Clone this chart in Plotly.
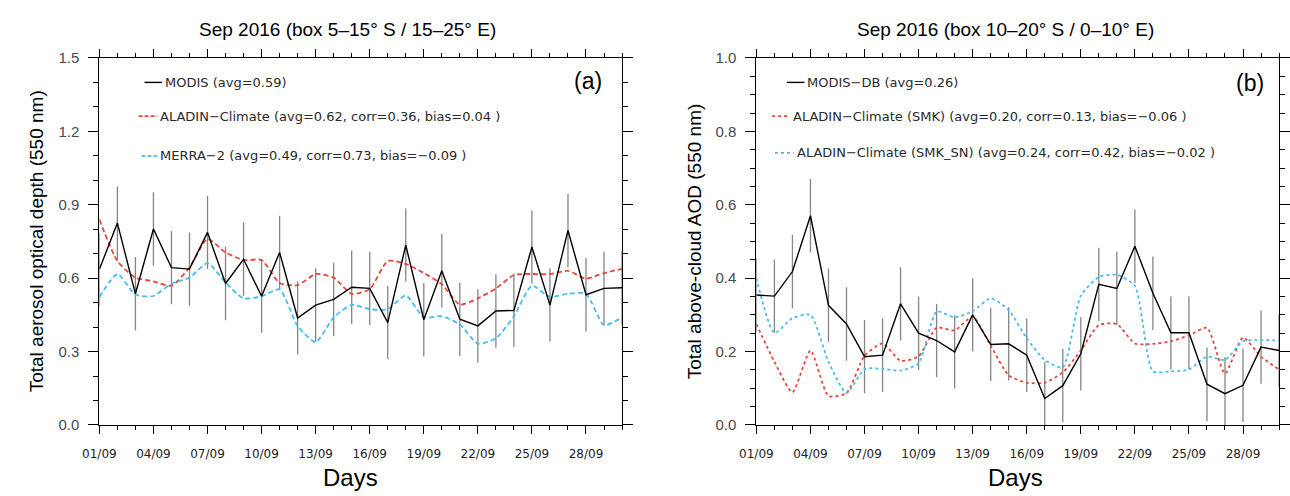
import plotly.graph_objects as go

# ---------------------------------------------------------------- data
days = list(range(1, 31))
day_ticks = [1, 4, 7, 10, 13, 16, 19, 22, 25, 28]
day_labels = ["01/09", "04/09", "07/09", "10/09", "13/09",
              "16/09", "19/09", "22/09", "25/09", "28/09"]

# Panel (a): box 5-15 S / 15-25 E, total AOD at 550 nm
modis_a = [0.636, 0.825, 0.536, 0.801, 0.643, 0.637, 0.787, 0.578, 0.677, 0.526,
           0.705, 0.437, 0.490, 0.513, 0.563, 0.558, 0.418, 0.735, 0.430, 0.630,
           0.432, 0.405, 0.466, 0.468, 0.727, 0.490, 0.795, 0.532, 0.558, 0.561]
modis_a_sd = [0.15, 0.15, 0.15, 0.15, 0.15, 0.15, 0.15, 0.15, 0.15, 0.15,
              0.15, 0.15, 0.15, 0.15, 0.15, 0.15, 0.15, 0.15, 0.15, 0.15,
              0.15, 0.15, 0.15, 0.15, 0.15, 0.15, 0.15, 0.15, 0.15, 0.15]
aladin_a = [0.840, 0.670, 0.602, 0.587, 0.569, 0.644, 0.760, 0.705, 0.674, 0.674,
            0.580, 0.571, 0.617, 0.602, 0.536, 0.555, 0.670, 0.658, 0.621, 0.575,
            0.492, 0.517, 0.558, 0.613, 0.617, 0.617, 0.630, 0.598, 0.621, 0.638]
merra_a = [0.523, 0.617, 0.533, 0.527, 0.578, 0.602, 0.661, 0.582, 0.517, 0.526,
           0.554, 0.405, 0.338, 0.440, 0.491, 0.473, 0.473, 0.529, 0.440, 0.444,
           0.411, 0.332, 0.354, 0.444, 0.569, 0.523, 0.536, 0.536, 0.408, 0.440]

# Panel (b): box 10-20 S / 0-10 E, above-cloud AOD at 550 nm
modis_b = [0.354, 0.351, 0.418, 0.570, 0.326, 0.275, 0.186, 0.190, 0.330, 0.250,
           0.230, 0.199, 0.300, 0.219, 0.221, 0.190, 0.072, 0.107, 0.194, 0.383,
           0.372, 0.487, 0.359, 0.251, 0.251, 0.111, 0.085, 0.108, 0.212, 0.203]
modis_b_sd = [0.10, 0.10, 0.10, 0.10, 0.10, 0.10, 0.10, 0.10, 0.10, 0.10,
              0.10, 0.10, 0.10, 0.10, 0.10, 0.10, 0.10, 0.10, 0.10, 0.10,
              0.10, 0.10, 0.10, 0.10, 0.10, 0.10, 0.10, 0.10, 0.10, 0.10]
smk_b = [0.275, 0.172, 0.089, 0.203, 0.079, 0.087, 0.188, 0.222, 0.175, 0.187,
         0.265, 0.258, 0.295, 0.216, 0.135, 0.115, 0.115, 0.143, 0.203, 0.272,
         0.275, 0.222, 0.221, 0.228, 0.244, 0.265, 0.140, 0.238, 0.186, 0.151]
smk_sn_b = [0.400, 0.251, 0.291, 0.300, 0.172, 0.087, 0.152, 0.153, 0.148, 0.168,
            0.309, 0.293, 0.310, 0.345, 0.313, 0.236, 0.177, 0.157, 0.352, 0.403,
            0.409, 0.379, 0.146, 0.146, 0.151, 0.186, 0.177, 0.228, 0.231, 0.230]

legend_a = ["MODIS (avg=0.59)",
            "ALADIN\u2212Climate (avg=0.62, corr=0.36, bias=0.04 )",
            "MERRA\u22122 (avg=0.49, corr=0.73, bias=\u22120.09 )"]
legend_b = ["MODIS\u2212DB (avg=0.26)",
            "ALADIN\u2212Climate (SMK) (avg=0.20, corr=0.13, bias=\u22120.06 )",
            "ALADIN\u2212Climate (SMK_SN) (avg=0.24, corr=0.42, bias=\u22120.02 )"]

# ---------------------------------------------------------------- style
W, H = 1290, 496
BLACK = "#000000"
RED = "#e8453c"
BLUE = "#45bdf0"
GREY = "#858585"
SANS = "Liberation Sans, Arial, sans-serif"
LEG_FONT = "DejaVu Sans, sans-serif"


def fx(x):
    return x / W


def fy(y):
    return 1 - y / H


fig = go.Figure()


def add_panel(xa, ya, obs, sd, m1, m2, dash):
    fig.add_trace(go.Scatter(
        x=days, y=obs, mode="markers", xaxis=xa, yaxis=ya,
        marker=dict(size=1, opacity=0),
        error_y=dict(type="data", array=sd, color=GREY, thickness=1.3, width=0),
        showlegend=False, hoverinfo="skip"))
    fig.add_trace(go.Scatter(
        x=days, y=m1, mode="lines", xaxis=xa, yaxis=ya,
        line=dict(color=RED, width=1.8, dash=dash, shape="spline", smoothing=0.6),
        showlegend=False))
    fig.add_trace(go.Scatter(
        x=days, y=m2, mode="lines", xaxis=xa, yaxis=ya,
        line=dict(color=BLUE, width=1.8, dash=dash, shape="spline", smoothing=0.6),
        showlegend=False))
    fig.add_trace(go.Scatter(
        x=days, y=obs, mode="lines", xaxis=xa, yaxis=ya,
        line=dict(color=BLACK, width=1.4),
        showlegend=False))


add_panel("x", "y", modis_a, modis_a_sd, aladin_a, merra_a, "5px,3px")
add_panel("x2", "y2", modis_b, modis_b_sd, smk_b, smk_sn_b, "3px,3px")

xaxis_common = dict(
    range=[1, 30], tickvals=day_ticks, ticktext=day_labels,
    ticks="outside", ticklen=8, tickwidth=1, tickcolor=BLACK,
    minor=dict(dtick=1, tick0=1, ticklen=4, tickcolor=BLACK, ticks="outside"),
    showline=True, linecolor=BLACK, linewidth=1.2, mirror="ticks",
    showgrid=False, zeroline=False,
    tickfont=dict(family="DejaVu Sans, sans-serif", size=12, color="#222222"),
    ticklabelstandoff=10,
)
yaxis_common = dict(
    ticks="outside", ticklen=10, tickwidth=1, tickcolor=BLACK,
    showline=True, linecolor=BLACK, linewidth=1.2, mirror="ticks",
    showgrid=False, zeroline=False,
    tickfont=dict(family=SANS, size=15, color="#4a4a4a"),
    tickformat=".1f", ticklabelstandoff=6,
)
ydom = [fy(430.7), fy(50.7)]

fig.update_layout(
    width=W, height=H,
    margin=dict(l=0, r=0, t=0, b=0),
    paper_bgcolor="white", plot_bgcolor="white",
    showlegend=False,
    xaxis=dict(domain=[fx(84), fx(617)], anchor="y", **xaxis_common),
    xaxis2=dict(domain=[fx(754), fx(1287)], anchor="y2", **xaxis_common),
    yaxis=dict(domain=ydom, anchor="x", range=[0, 1.5],
               tickvals=[0, 0.3, 0.6, 0.9, 1.2, 1.5],
               minor=dict(dtick=0.1, tick0=0, ticklen=5, tickcolor=BLACK, ticks="outside"),
               **yaxis_common),
    yaxis2=dict(domain=ydom, anchor="x2", range=[0, 1.0],
                tickvals=[0, 0.2, 0.4, 0.6, 0.8, 1.0],
                minor=dict(dtick=0.05, tick0=0, ticklen=5, tickcolor=BLACK, ticks="outside"),
                **yaxis_common),
)

annotations = []
shapes = []


def text(x, y, s, size, family=SANS, color=BLACK, angle=0, xanchor="center"):
    annotations.append(dict(
        x=fx(x), y=fy(y), xref="paper", yref="paper", text=s, showarrow=False,
        xanchor=xanchor, yanchor="middle", textangle=angle,
        font=dict(family=family, size=size, color=color)))


# titles, axis labels, panel tags
text(337, 21, "Sep 2016 (box 5\u201315\u00b0 S / 15\u201325\u00b0 E)", 19)
text(1008, 21, "Sep 2016 (box 10\u201320\u00b0 S / 0\u201310\u00b0 E)", 19)
text(20, 241, "Total aerosol optical depth (550 nm)", 19, angle=-90)
text(691, 241, "Total above-cloud AOD (550 nm)", 19, angle=-90)
DAYS_FONT = "Liberation Sans Narrow, Arial Narrow, sans-serif"
text(340, 485, "Days", 24, family=DAYS_FONT)
text(1018, 485, "Days", 24, family=DAYS_FONT)
text(582, 75, "(a)", 23)
text(1257, 77, "(b)", 23)


# in-plot key: short line sample followed by its text
def key(x0, x1, y, color, dash, label, width):
    shapes.append(dict(type="line", xref="paper", yref="paper",
                       x0=fx(x0), x1=fx(x1), y0=fy(y), y1=fy(y),
                       line=dict(color=color, width=width, dash=dash)))
    text(x1 + 1, y, label, 13, family=LEG_FONT, color="#2a2a2a", xanchor="left")


key(130, 148, 76, BLACK, "solid", legend_a[0], 1.4)
key(124, 143, 111, RED, "4px,2px", legend_a[1], 1.8)
key(127, 143, 152, BLUE, "4px,2px", legend_a[2], 1.8)
key(785, 803, 76, BLACK, "solid", legend_b[0], 1.4)
key(770, 788, 111, RED, "3px,3px", legend_b[1], 1.8)
key(773, 792, 149, BLUE, "3px,3px", legend_b[2], 1.8)

fig.update_layout(annotations=annotations, shapes=shapes)
fig.write_html("out.html")
